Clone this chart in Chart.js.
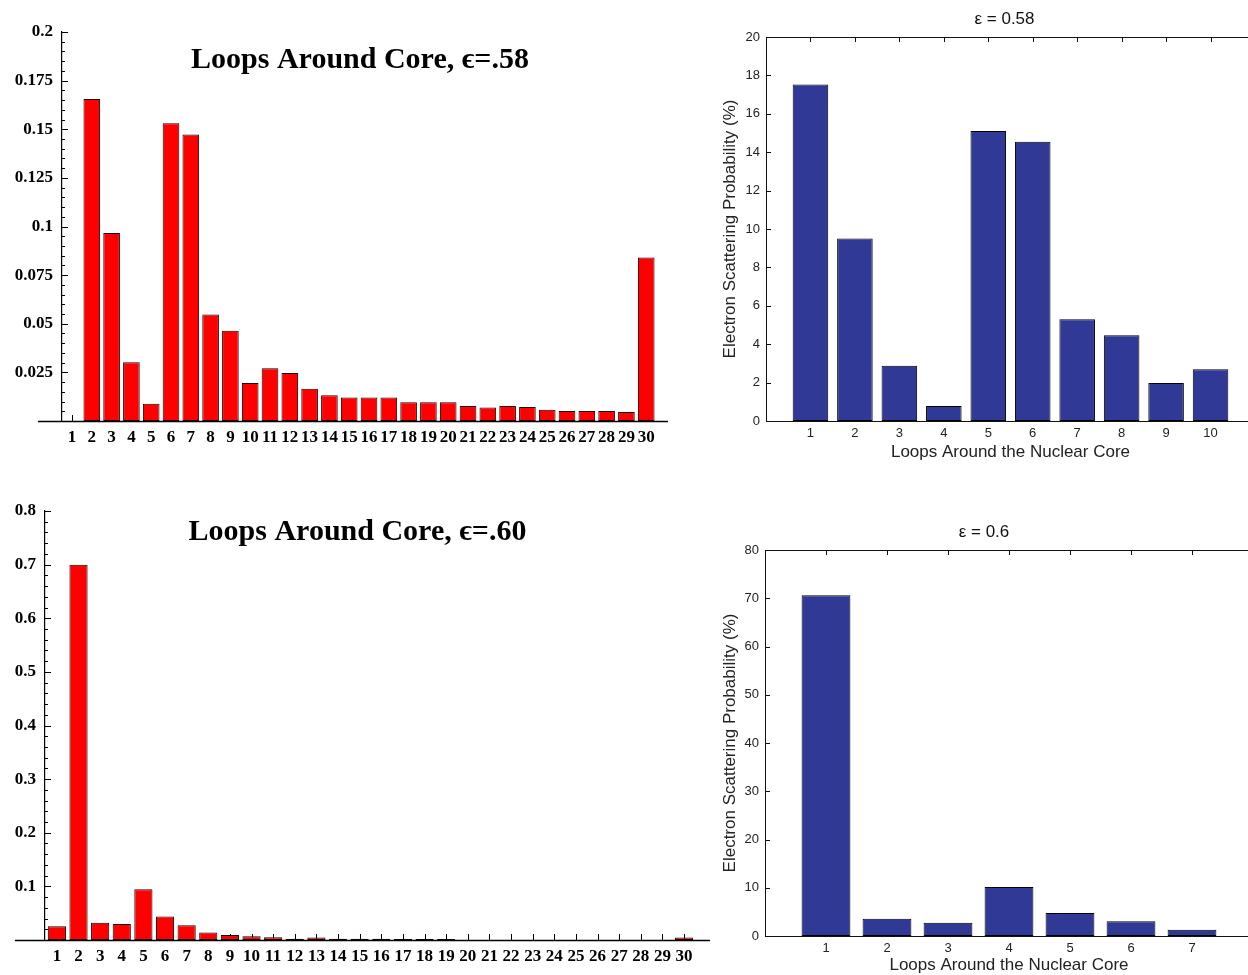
<!DOCTYPE html>
<html>
<head>
<meta charset="utf-8">
<title>Loops Around Core</title>
<script src="https://cdn.jsdelivr.net/npm/chart.js@4.4.0/dist/chart.umd.min.js"></script>
<style>
    html, body { margin: 0; padding: 0; background: #fff; width: 1248px; height: 975px; overflow: hidden; }
    canvas { position: absolute; }
</style>
</head>
<body>
<canvas id="mm-58" width="690" height="470" style="left:0px;top:0px"></canvas>
<canvas id="ml-58" width="580" height="475" style="left:690px;top:0px"></canvas>
<canvas id="mm-60" width="715" height="495" style="left:0px;top:480px"></canvas>
<canvas id="ml-60" width="580" height="500" style="left:690px;top:480px"></canvas>
<script>
// Loop counts on the x axis
const loops30 = [1, 2, 3, 4, 5, 6, 7, 8, 9, 10, 11, 12, 13, 14, 15, 16, 17, 18, 19, 20, 21, 22, 23, 24, 25, 26, 27, 28, 29, 30];
const loops10 = [1, 2, 3, 4, 5, 6, 7, 8, 9, 10];
const loops7 = [1, 2, 3, 4, 5, 6, 7];

// Mathematica runs (fraction of electrons)
const core58 = [0, 0.1655, 0.0966, 0.0302, 0.0089, 0.1531, 0.1473, 0.0548, 0.0464, 0.0196,
    0.0271, 0.0247, 0.0166, 0.0133, 0.0121, 0.0121, 0.0121, 0.0096, 0.0096, 0.0096,
    0.0077, 0.0070, 0.0077, 0.0072, 0.0058, 0.0051, 0.0051, 0.0051, 0.0046, 0.0841];
const core60 = [0.0257, 0.700, 0.032, 0.030, 0.0945, 0.0438, 0.0275, 0.0138, 0.0094, 0.0069,
    0.005, 0.0025, 0.0045, 0.0025, 0.0025, 0.0025, 0.002, 0.002, 0.002, 0,
    0, 0, 0, 0, 0, 0, 0, 0, 0, 0.0045];

// MATLAB runs (percent)
const scatter58 = [17.53, 9.51, 2.88, 0.78, 15.10, 14.55, 5.30, 4.46, 1.98, 2.69];
const scatter60 = [70.6, 3.6, 2.77, 10.18, 4.78, 3.05, 1.32];

// Tick labels
const yTicks58 = [0.025, 0.05, 0.075, 0.1, 0.125, 0.15, 0.175, 0.2];
const yTicks60 = [0.1, 0.2, 0.3, 0.4, 0.5, 0.6, 0.7, 0.8];
const pctTicks58 = [0, 2, 4, 6, 8, 10, 12, 14, 16, 18, 20];
const pctTicks60 = [0, 10, 20, 30, 40, 50, 60, 70, 80];

// Axis line running past the y axis, Mathematica style
const baselinePlugin = {
    id: 'baseline',
    afterDraw(chart, args, opts) {
        const xs = chart.scales.x;
        const py = Math.round(chart.scales.y.getPixelForValue(0)) + 0.5;
        const ctx = chart.ctx;
        ctx.save();
        ctx.strokeStyle = '#000';
        ctx.lineWidth = 1.4;
        ctx.beginPath();
        ctx.moveTo(xs.getPixelForValue(opts.from), py);
        ctx.lineTo(xs.right, py);
        ctx.stroke();
        ctx.restore();
    }
};

// Tick marks pointing into the plot (and the box for MATLAB)
const innerTicksPlugin = {
    id: 'innerTicks',
    beforeDatasetsDraw(chart, args, opts) {
        const { ctx, chartArea } = chart;
        const xs = chart.scales.x;
        const ys = chart.scales.y;
        ctx.save();
        ctx.strokeStyle = opts.color || '#000';
        ctx.lineWidth = 1;
        ctx.beginPath();
        xs.ticks.forEach(t => {
            const px = Math.round(xs.getPixelForValue(t.value)) + 0.5;
            ctx.moveTo(px, chartArea.bottom);
            ctx.lineTo(px, chartArea.bottom - opts.len);
            if (opts.box) {
                ctx.moveTo(px, chartArea.top);
                ctx.lineTo(px, chartArea.top + opts.len);
            }
        });
        ys.ticks.forEach(t => {
            if (t.value === 0) return;
            const py = Math.round(ys.getPixelForValue(t.value)) + 0.5;
            const len = t.label === '' ? opts.minorLen : opts.len;
            ctx.moveTo(chartArea.left, py);
            ctx.lineTo(chartArea.left + len, py);
            if (opts.box) {
                ctx.moveTo(chartArea.right, py);
                ctx.lineTo(chartArea.right - len, py);
            }
        });
        ctx.stroke();
        if (opts.box) {
            ctx.strokeRect(Math.round(chartArea.left) + 0.5, Math.round(chartArea.top) + 0.5,
                Math.round(chartArea.right - chartArea.left), Math.round(chartArea.bottom - chartArea.top));
        }
        ctx.restore();
    }
};

// Plot title placed relative to the plot area
const plotTitlePlugin = {
    id: 'plotTitle',
    afterDraw(chart, args, opts) {
        const { ctx, chartArea } = chart;
        ctx.save();
        ctx.font = opts.font;
        ctx.fillStyle = opts.color || '#000';
        ctx.textAlign = 'center';
        ctx.textBaseline = 'middle';
        ctx.fillText(opts.text, (chartArea.left + chartArea.right) / 2 + opts.dx, chartArea.top + opts.dy);
        ctx.restore();
    }
};

// Major ticks from the label list, with minor ticks in between
function withMinorTicks(majors, minorCount) {
    const out = [{ value: 0 }];
    let prev = 0;
    majors.forEach(m => {
        for (let k = 1; k <= minorCount; k++) {
            out.push({ value: prev + (m - prev) * k / (minorCount + 1), minor: true });
        }
        out.push({ value: m });
        prev = m;
    });
    return out;
}

function toPoints(xs, ys) {
    return xs.map((x, i) => ({ x: x, y: ys[i] }));
}

// Red Mathematica bar chart
function makeMathematicaChart(id, cfg) {
    const serifTick = { family: 'Liberation Serif', weight: 'bold', size: 17 };
    return new Chart(document.getElementById(id), {
        type: 'bar',
        data: {
            datasets: [{
                data: toPoints(loops30, cfg.values),
                backgroundColor: '#ff0000',
                borderColor: '#1a0000',
                borderWidth: 1,
                borderSkipped: false,
                barPercentage: 0.84,
                categoryPercentage: 1
            }]
        },
        plugins: [baselinePlugin, innerTicksPlugin, plotTitlePlugin],
        options: {
            responsive: false,
            animation: false,
            devicePixelRatio: 1,
            layout: { padding: { left: 0, top: cfg.padTop, right: cfg.padRight, bottom: 0 } },
            plugins: {
                legend: { display: false },
                tooltip: { enabled: false },
                baseline: { from: cfg.lineFrom },
                innerTicks: { len: 6, minorLen: 3, box: false },
                plotTitle: { text: cfg.title, font: 'bold 30px "Liberation Serif"', dx: cfg.titleDx, dy: cfg.titleDy }
            },
            scales: {
                x: {
                    type: 'linear',
                    offset: false,
                    min: cfg.xMin,
                    max: cfg.xMax,
                    afterBuildTicks: scale => { scale.ticks = loops30.map(v => ({ value: v })); },
                    afterFit: scale => { scale.height = cfg.xHeight; },
                    grid: { display: false, drawTicks: false },
                    border: { display: false },
                    ticks: { autoSkip: false, maxRotation: 0, padding: 6, color: '#000', font: serifTick,
                        callback: v => String(v) }
                },
                y: {
                    min: 0,
                    max: cfg.yMax,
                    afterBuildTicks: scale => { scale.ticks = withMinorTicks(cfg.yTicks, 4); },
                    afterFit: scale => { scale.width = cfg.yWidth; },
                    grid: { display: false, drawTicks: false },
                    border: { display: true, color: '#000', width: 1.2 },
                    ticks: { autoSkip: false, padding: 9, color: '#000', font: serifTick,
                        callback: v => {
                            const m = cfg.yTicks.find(t => Math.abs(t - v) < 1e-9);
                            return m === undefined ? '' : String(m);
                        } }
                }
            }
        }
    });
}

// Blue MATLAB bar chart
function makeMatlabChart(id, cfg) {
    const sansTick = { family: 'Liberation Sans', size: 13 };
    const sansTitle = { family: 'Liberation Sans', size: 17 };
    return new Chart(document.getElementById(id), {
        type: 'bar',
        data: {
            datasets: [{
                data: toPoints(cfg.loops, cfg.values),
                backgroundColor: '#303a96',
                borderColor: '#000',
                borderWidth: 1,
                borderSkipped: false,
                barPercentage: 0.8,
                categoryPercentage: 1
            }]
        },
        plugins: [innerTicksPlugin, plotTitlePlugin],
        options: {
            responsive: false,
            animation: false,
            devicePixelRatio: 1,
            layout: { padding: { left: 0, top: cfg.padTop, right: cfg.padRight, bottom: 0 } },
            plugins: {
                legend: { display: false },
                tooltip: { enabled: false },
                innerTicks: { len: 5, minorLen: 5, box: true, color: '#111' },
                plotTitle: { text: cfg.title, font: '17px "Liberation Sans"', color: '#111', dx: cfg.titleDx, dy: -18 }
            },
            scales: {
                x: {
                    type: 'linear',
                    offset: false,
                    min: 0,
                    max: cfg.loops.length + 1,
                    afterBuildTicks: scale => { scale.ticks = cfg.loops.map(v => ({ value: v })); },
                    afterFit: scale => { scale.height = cfg.xHeight; },
                    grid: { display: false, drawTicks: false },
                    border: { display: false },
                    ticks: { autoSkip: false, maxRotation: 0, padding: 5, color: '#222', font: sansTick,
                        callback: v => String(v) },
                    title: { display: true, text: 'Loops Around the Nuclear Core', color: '#222', font: sansTitle,
                        padding: { top: 0, bottom: cfg.xTitlePad } }
                },
                y: {
                    min: 0,
                    max: cfg.yTicks[cfg.yTicks.length - 1],
                    afterBuildTicks: scale => { scale.ticks = cfg.yTicks.map(v => ({ value: v })); },
                    afterFit: scale => { scale.width = cfg.yWidth; },
                    grid: { display: false, drawTicks: false },
                    border: { display: false },
                    ticks: { autoSkip: false, padding: 6, color: '#222', font: sansTick,
                        callback: v => String(v) },
                    title: { display: true, text: 'Electron Scattering Probability (%)', color: '#222', font: sansTitle,
                        padding: { top: 30, bottom: 0 } }
                }
            }
        }
    });
}

makeMathematicaChart('mm-58', {
    values: core58, yTicks: yTicks58, yMax: 0.2,
    title: 'Loops Around Core, \u03f5=.58',
    xMin: 0.495, xMax: 31.1, lineFrom: -0.72,
    padTop: 32, padRight: 22, xHeight: 49, yWidth: 62,
    titleDx: -5, titleDy: 28
});

makeMathematicaChart('mm-60', {
    values: core60, yTicks: yTicks60, yMax: 0.8,
    title: 'Loops Around Core, \u03f5=.60',
    xMin: 0.45, xMax: 31.2, lineFrom: -0.94,
    padTop: 31, padRight: 5, xHeight: 35, yWidth: 45,
    titleDx: -20, titleDy: 21
});

makeMatlabChart('ml-58', {
    loops: loops10, values: scatter58, yTicks: pctTicks58,
    title: '\u03b5 = 0.58',
    padTop: 37, padRight: 15, xHeight: 54, yWidth: 76, xTitlePad: 12, titleDx: -6
});

makeMatlabChart('ml-60', {
    loops: loops7, values: scatter60, yTicks: pctTicks60,
    title: '\u03b5 = 0.6',
    padTop: 70, padRight: 17, xHeight: 44, yWidth: 75, xTitlePad: 4, titleDx: -25
});
</script>
</body>
</html>
